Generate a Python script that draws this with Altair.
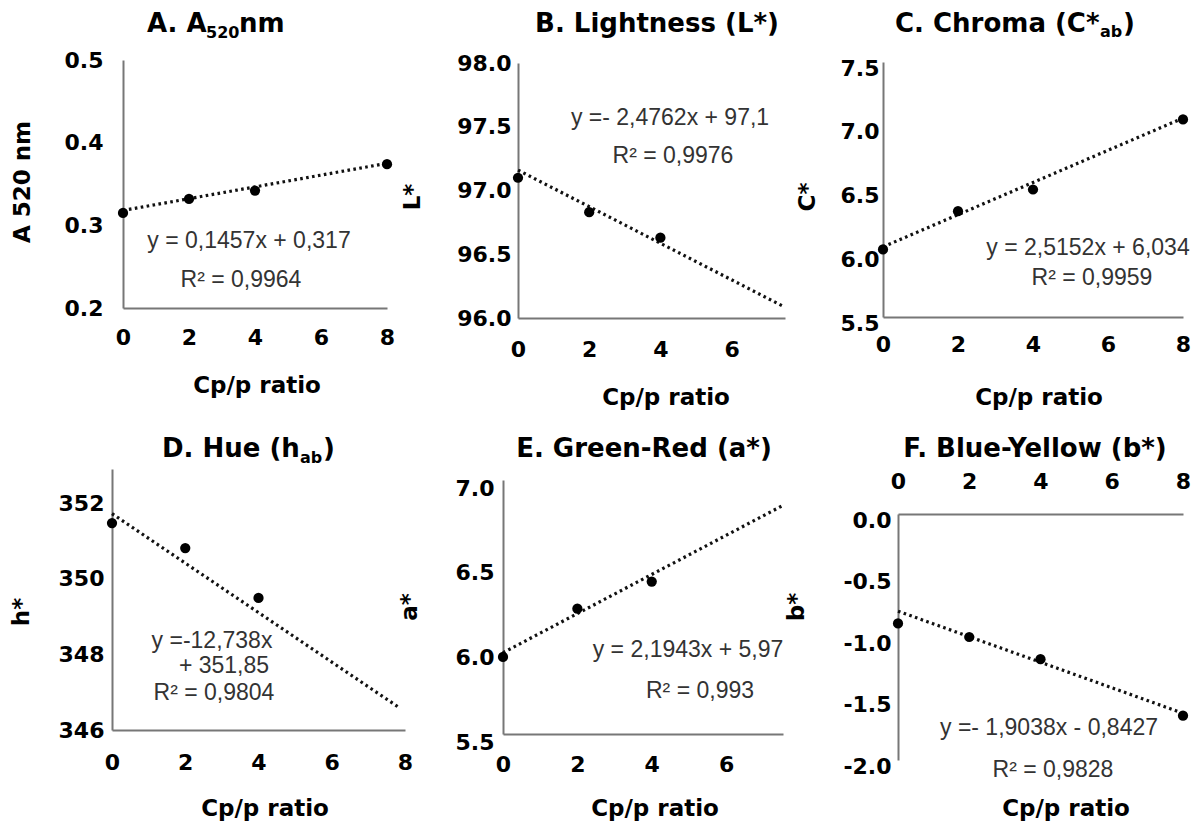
import altair as alt
import pandas as pd

# ---------------- data ----------------
x_A = [0, 2, 4, 8]
y_A = [0.315, 0.332, 0.342, 0.374]
trend_x_A = [0, 8]
trend_y_A = [0.318, 0.375]

x_B = [0, 2, 4]
y_B = [97.10, 96.83, 96.63]
trend_x_B = [0, 7.46]
trend_y_B = [97.16, 96.09]

x_C = [0, 2, 4, 8]
y_C = [6.03, 6.33, 6.50, 7.05]
trend_x_C = [0, 8]
trend_y_C = [6.05, 7.06]

x_D = [0, 2, 4]
y_D = [351.47, 350.81, 349.49]
trend_x_D = [0, 7.86]
trend_y_D = [351.72, 346.58]

x_E = [0, 2, 4]
y_E = [5.955, 6.24, 6.40]
trend_x_E = [0, 7.53]
trend_y_E = [5.98, 6.85]

x_F = [0, 2, 4, 8]
y_F = [-0.89, -1.0, -1.18, -1.64]
trend_x_F = [0, 8]
trend_y_F = [-0.79, -1.62]

eq_A = ["y = 0,1457x + 0,317", "R\u00b2 = 0,9964"]
eq_B = ["y =- 2,4762x + 97,1", "R\u00b2 = 0,9976"]
eq_C = ["y = 2,5152x + 6,034", "R\u00b2 = 0,9959"]
eq_D = ["y =-12,738x", "+ 351,85", "R\u00b2 = 0,9804"]
eq_E = ["y = 2,1943x + 5,97", "R\u00b2 = 0,993"]
eq_F = ["y =- 1,9038x - 0,8427", "R\u00b2 = 0,9828"]

x_title = "Cp/p ratio"

# ---------------- layout ----------------
OFF = 8
W, H = 1184, 816
BOLD_FONT = "DejaVu Sans"
EQ_FONT = "Liberation Sans"


def px(v):
    return v - OFF


def panel(xs, ys, txs, tys, xdom, xr, xticks, ydom, yr, yticks, yfmt,
          xorient="bottom", xpad=20, ypad=8, ylaboff=0):
    xr_c = [px(xr[0]), px(xr[1])]
    yr_c = [px(yr[0]), px(yr[1])]
    if xorient == "bottom":
        x_off = yr_c[0] - H
    else:
        x_off = -yr_c[1]
    y_off = -xr_c[0]
    common = dict(labelFont=BOLD_FONT, labelFontWeight="bold", labelFontSize=22,
                  labelColor="black", domainColor="#777777", domainWidth=2,
                  ticks=False, tickSize=0, grid=False, title=None,
                  labelOverlap=False, labelFlush=False)
    xaxis = alt.Axis(orient=xorient, offset=x_off, values=xticks, format="d",
                     labelPadding=xpad, **common)
    yaxis = alt.Axis(orient="left", offset=y_off, values=yticks, labelPadding=ypad,
                     labelOffset=ylaboff,
                     labelExpr="replace(format(datum.value, '" + yfmt + "'), '\u2212', '-')",
                     **common)
    xenc = alt.X("x:Q", scale=alt.Scale(domain=xdom, range=xr_c, nice=False, zero=False), axis=xaxis)
    yenc = alt.Y("y:Q", scale=alt.Scale(domain=ydom, range=yr_c, nice=False, zero=False), axis=yaxis)
    line = alt.Chart(pd.DataFrame({"x": txs, "y": tys})).mark_line(
        color="#111111", strokeWidth=3.2, strokeDash=[2.6, 3.4]
    ).encode(x=xenc, y=yenc)
    pts = alt.Chart(pd.DataFrame({"x": xs, "y": ys})).mark_circle(
        size=105, color="black", opacity=1
    ).encode(x=xenc, y=yenc)
    return alt.layer(line, pts)


def txt(s, x, y, size, bold=True, align="center", baseline="alphabetic", angle=0,
        color="black", font=BOLD_FONT):
    return alt.Chart(pd.DataFrame({"t": [s]})).mark_text(
        font=font, fontSize=size, fontWeight="bold" if bold else "normal",
        align=align, baseline=baseline, angle=angle, color=color
    ).encode(x=alt.value(px(x)), y=alt.value(px(y)), text="t:N")


def eq(s, x, y):
    return txt(s, x, y, 23, bold=False, font=EQ_FONT, color="#333333")


pA = panel(x_A, y_A, trend_x_A, trend_y_A, [0, 8], [123, 387], [0, 2, 4, 6, 8],
           [0.2, 0.5], [308, 60], [0.2, 0.3, 0.4, 0.5], ".1f", xpad=19, ypad=20)
pB = panel(x_B, y_B, trend_x_B, trend_y_B, [0, 7.5], [518, 785], [0, 2, 4, 6],
           [96, 98], [318, 63], [96, 96.5, 97, 97.5, 98], ".1f", xpad=21, ypad=7)
pC = panel(x_C, y_C, trend_x_C, trend_y_C, [0, 8], [883, 1183], [0, 2, 4, 6, 8],
           [5.5, 7.5], [317, 62], [5.5, 6, 6.5, 7, 7.5], ".1f", xpad=17, ypad=4, ylaboff=6)
pD = panel(x_D, y_D, trend_x_D, trend_y_D, [0, 8], [112, 405], [0, 2, 4, 6, 8],
           [346, 352.9], [730, 469], [346, 348, 350, 352], "d", xpad=22, ypad=8)
pE = panel(x_E, y_E, trend_x_E, trend_y_E, [0, 7.53], [503, 783], [0, 2, 4, 6],
           [5.5, 7.0], [734, 480], [5.5, 6, 6.5, 7], ".1f", xpad=20, ypad=9, ylaboff=8)
pF = panel(x_F, y_F, trend_x_F, trend_y_F, [0, 8], [898, 1183], [0, 2, 4, 6, 8],
           [-2, 0], [760, 514], [-2, -1.5, -1, -0.5, 0], ".1f", xorient="top",
           xpad=21, ypad=7, ylaboff=6)

TOP_BASE = 32
BOT_BASE = 816
texts = [
    # panel titles
    txt("A. A", 147, TOP_BASE, 26, align="left"),
    txt("520", 206, TOP_BASE + 6, 16, align="left"),
    txt("nm", 239, TOP_BASE, 26, align="left"),
    txt("B. Lightness (L*)", 657, TOP_BASE, 26),
    txt("C. Chroma (C*", 895, TOP_BASE, 26, align="left"),
    txt("ab", 1100, TOP_BASE + 5, 16, align="left"),
    txt(")", 1123, TOP_BASE, 26, align="left"),
    txt("D. Hue (h", 162, 457, 26, align="left"),
    txt("ab", 300, 463, 16, align="left"),
    txt(")", 323, 457, 26, align="left"),
    txt("E. Green-Red (a*)", 644, 457, 26),
    txt("F. Blue-Yellow (b*)", 1035, 457, 26),
    # y axis titles
    txt("A 520 nm", 23, 182, 23, baseline="middle", angle=270),
    txt("L*", 413, 197, 23, baseline="middle", angle=270),
    txt("C*", 808, 197, 23, baseline="middle", angle=270),
    txt("h*", 22, 612, 23, baseline="middle", angle=270),
    txt("a*", 410, 607, 23, baseline="middle", angle=270),
    txt("b*", 797, 607, 23, baseline="middle", angle=270),
    # x axis titles
    txt(x_title, 257, 393, 23),
    txt(x_title, 666, 405, 23),
    txt(x_title, 1039, 405, 23),
    txt(x_title, 265, BOT_BASE, 23),
    txt(x_title, 655, BOT_BASE, 23),
    txt(x_title, 1066, BOT_BASE, 23),
    # regression equations
    eq(eq_A[0], 249, 248), eq(eq_A[1], 241, 287),
    eq(eq_B[0], 670, 125), eq(eq_B[1], 673, 163),
    eq(eq_C[0], 1088, 255), eq(eq_C[1], 1092, 285),
    eq(eq_D[0], 212, 648), eq(eq_D[1], 224, 673), eq(eq_D[2], 214, 700),
    eq(eq_E[0], 688, 657), eq(eq_E[1], 700, 698),
    eq(eq_F[0], 1049, 735), eq(eq_F[1], 1053, 777),
]

chart = alt.layer(pA, pB, pC, pD, pE, pF, *texts).resolve_scale(
    x="independent", y="independent"
).properties(
    width=W, height=H, padding=0,
    autosize=alt.AutoSizeParams(type="none"),
    background="white",
).configure_view(stroke=None)

chart.save("out.html", embed_options={"renderer": "svg", "actions": False})
